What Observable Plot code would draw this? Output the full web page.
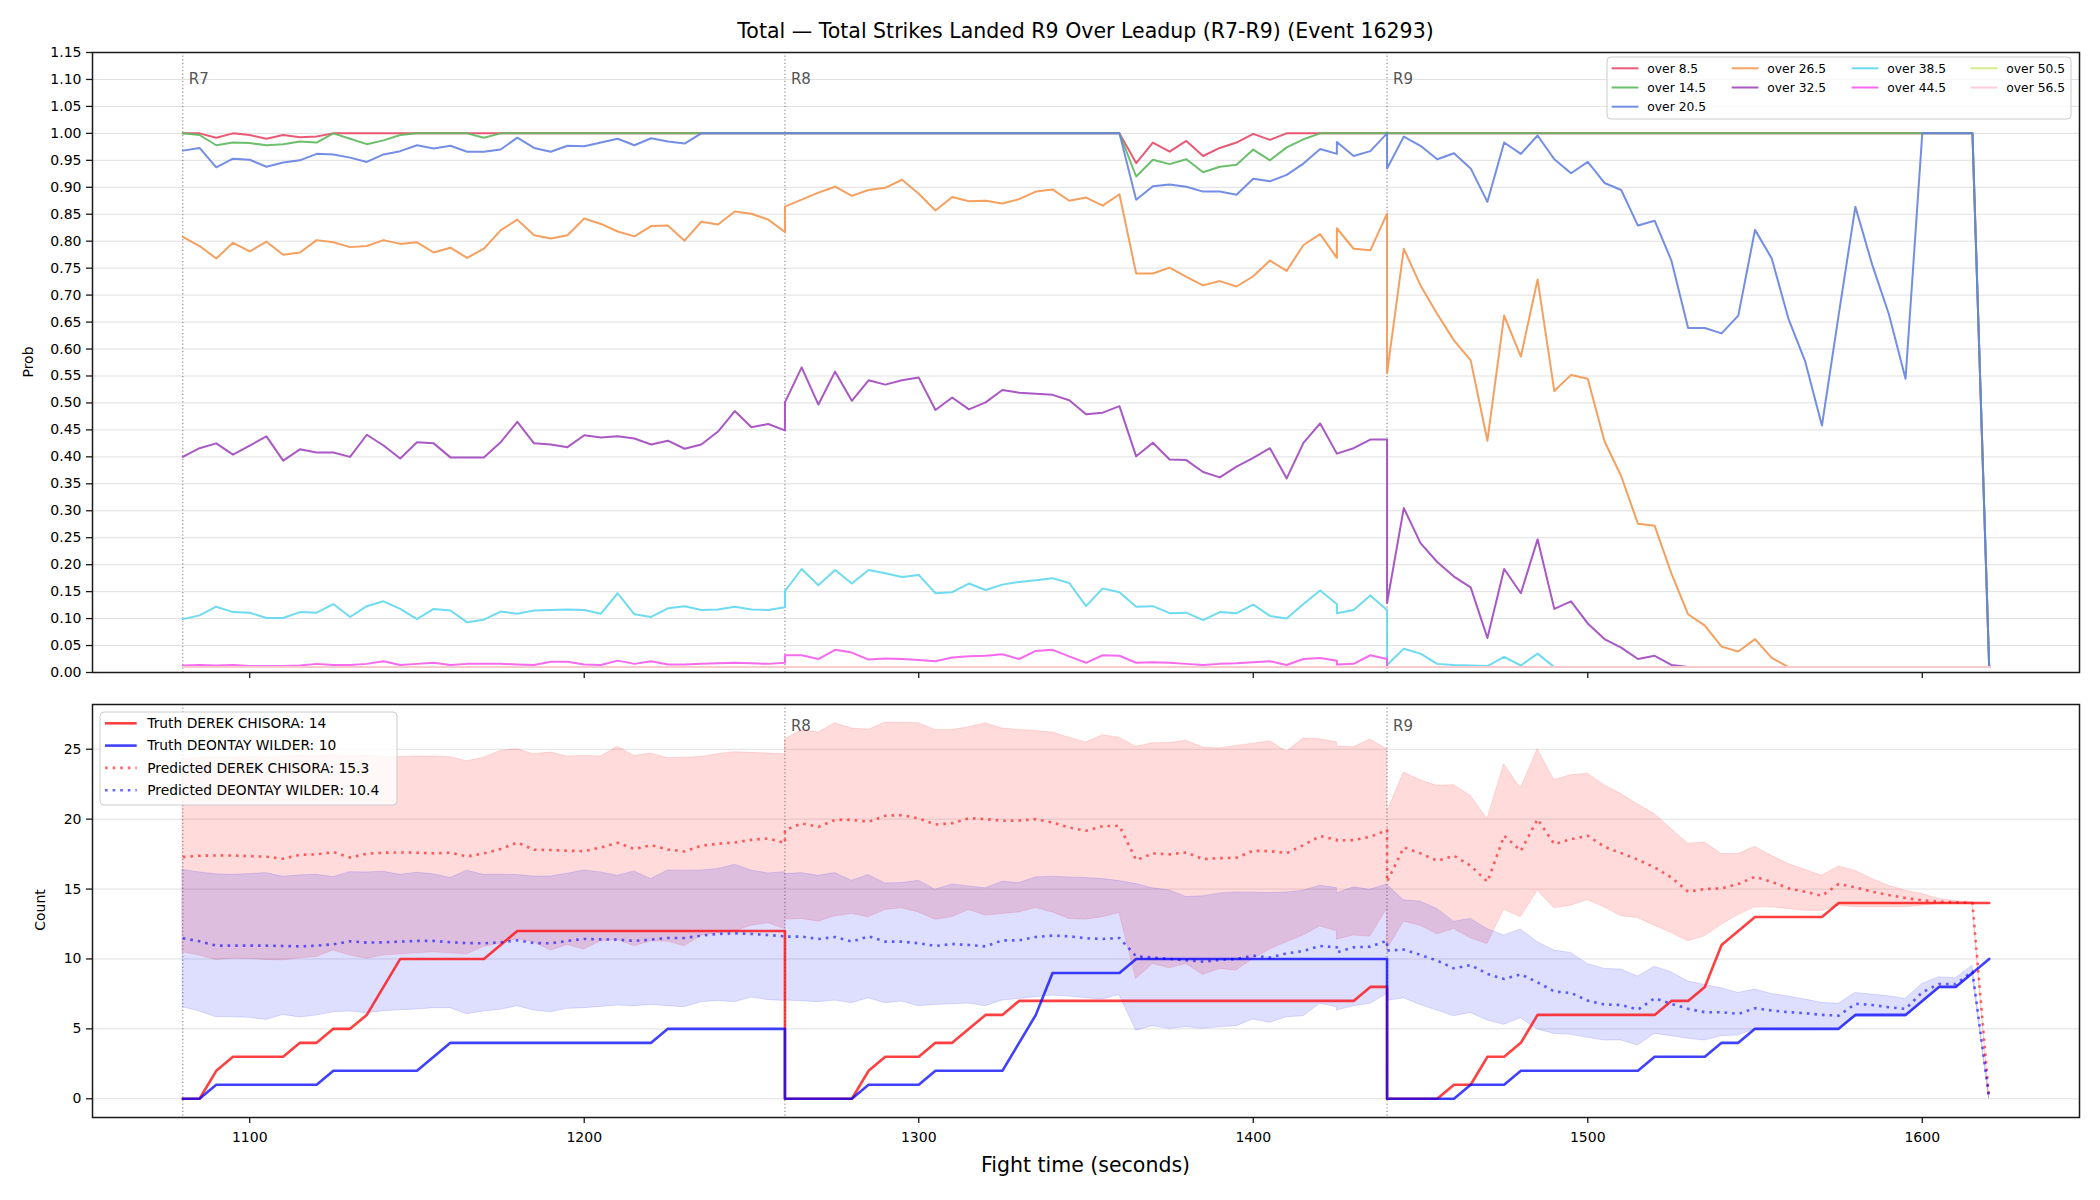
<!DOCTYPE html>
<html>
<head>
<meta charset="utf-8">
<script src="https://cdn.jsdelivr.net/npm/d3@7"></script>
<script src="https://cdn.jsdelivr.net/npm/@observablehq/plot@0.6"></script>
<style>
  body { margin: 0; background: #fff; font-family: "DejaVu Sans", sans-serif; }
  #fig { position: relative; width: 2100px; height: 1200px; overflow: hidden; background: #fff; }
  #fig > svg { position: absolute; left: 0; }
</style>
</head>
<body>
<div id="fig"></div>
<script>
// ---- Rounds and sample grid (seconds into each round, 5 s apart) ----
const roundLabels = ["R7", "R8", "R9"];
const roundStarts = [1080, 1260, 1440];
const offsets = [0, 5, 10, 15, 20, 25, 30, 35, 40, 45, 50, 55, 60, 65, 70, 75, 80, 85, 90, 95,
  100, 105, 110, 115, 120, 125, 130, 135, 140, 145, 150, 155, 160, 165, 170, 175, 180];
// R8 has two snapshots at 165 s
const offsetsR8 = [0, 5, 10, 15, 20, 25, 30, 35, 40, 45, 50, 55, 60, 65, 70, 75, 80, 85, 90, 95,
  100, 105, 110, 115, 120, 125, 130, 135, 140, 145, 150, 155, 160, 165, 165, 170, 175, 180];
const roundOffsets = [offsets, offsetsR8, offsets];

const xTicks = [1100, 1200, 1300, 1400, 1500, 1600];
const probTicks = [0, 0.05, 0.1, 0.15, 0.2, 0.25, 0.3, 0.35, 0.4, 0.45, 0.5, 0.55,
  0.6, 0.65, 0.7, 0.75, 0.8, 0.85, 0.9, 0.95, 1, 1.05, 1.1, 1.15];
const countTicks = [0, 5, 10, 15, 20, 25];

// ---- Over/under probabilities, one list per round [R7, R8, R9] ----
const probLabels = ["over 8.5", "over 14.5", "over 20.5", "over 26.5", "over 32.5",
  "over 38.5", "over 44.5", "over 50.5", "over 56.5"];
const probColors = ["#e84868", "#5cb85c", "#6482e1", "#f5964f", "#a046be",
  "#5fd7f0", "#f55aeb", "#cdeb78", "#fac8d7"];

const over8_5 = [
  [1, 1, 0.992, 1, 0.997, 0.99, 0.997, 0.993, 0.994, 1,
   1, 1, 1, 1, 1, 1, 1, 1, 1, 1,
   1, 1, 1, 1, 1, 1, 1, 1, 1, 1,
   1, 1, 1, 1, 1, 1, 1],
  [1, 1, 1, 1, 1, 1, 1, 1, 1, 1,
   1, 1, 1, 1, 1, 1, 1, 1, 1, 1,
   1, 0.945, 0.983, 0.966, 0.986, 0.958, 0.973, 0.983, 0.999, 0.988,
   1, 1, 1, 1, 1, 1, 1, 1],
  [1, 1, 1, 1, 1, 1, 1, 1, 1, 1,
   1, 1, 1, 1, 1, 1, 1, 1, 1, 1,
   1, 1, 1, 1, 1, 1, 1, 1, 1, 1,
   1, 1, 1, 1, 1, 1, 0.01]
];
const over14_5 = [
  [1, 0.997, 0.978, 0.983, 0.982, 0.978, 0.98, 0.985, 0.983, 1,
   0.99, 0.98, 0.987, 0.997, 1, 1, 1, 1, 0.992, 1,
   1, 1, 1, 1, 1, 1, 1, 1, 1, 1,
   1, 1, 1, 1, 1, 1, 1],
  [1, 1, 1, 1, 1, 1, 1, 1, 1, 1,
   1, 1, 1, 1, 1, 1, 1, 1, 1, 1,
   1, 0.92, 0.951, 0.943, 0.952, 0.928, 0.938, 0.942, 0.97, 0.95,
   0.974, 0.989, 1, 1, 1, 1, 1, 1],
  [1, 1, 1, 1, 1, 1, 1, 1, 1, 1,
   1, 1, 1, 1, 1, 1, 1, 1, 1, 1,
   1, 1, 1, 1, 1, 1, 1, 1, 1, 1,
   1, 1, 1, 1, 1, 1, 0.01]
];
const over20_5 = [
  [0.968, 0.973, 0.937, 0.953, 0.951, 0.938, 0.946, 0.95, 0.962, 0.961,
   0.955, 0.947, 0.961, 0.967, 0.978, 0.972, 0.977, 0.966, 0.966, 0.97,
   0.992, 0.973, 0.966, 0.977, 0.976, 0.983, 0.99, 0.978, 0.991, 0.985,
   0.981, 1, 1, 1, 1, 1, 1],
  [1, 1, 1, 1, 1, 1, 1, 1, 1, 1,
   1, 1, 1, 1, 1, 1, 1, 1, 1, 1,
   1, 0.877, 0.902, 0.905, 0.901, 0.892, 0.892, 0.886, 0.916, 0.911,
   0.923, 0.944, 0.971, 0.962, 0.984, 0.958, 0.967, 1],
  [0.935, 0.994, 0.977, 0.952, 0.963, 0.935, 0.873, 0.983, 0.962, 0.996,
   0.952, 0.926, 0.947, 0.908, 0.895, 0.829, 0.838, 0.764, 0.639, 0.639,
   0.629, 0.662, 0.821, 0.768, 0.656, 0.577, 0.458, 0.663, 0.864, 0.757,
   0.665, 0.545, 1, 1, 1, 1, 0.01]
];
const over26_5 = [
  [0.808, 0.791, 0.768, 0.797, 0.781, 0.799, 0.775, 0.779, 0.802, 0.798,
   0.789, 0.791, 0.802, 0.795, 0.798, 0.779, 0.788, 0.769, 0.786, 0.82,
   0.84, 0.811, 0.805, 0.811, 0.842, 0.832, 0.818, 0.809, 0.828, 0.829,
   0.801, 0.836, 0.831, 0.855, 0.851, 0.84, 0.817],
  [0.864, 0.877, 0.89, 0.901, 0.884, 0.895, 0.899, 0.914, 0.888, 0.857,
   0.882, 0.874, 0.875, 0.87, 0.878, 0.892, 0.896, 0.875, 0.881, 0.866,
   0.887, 0.74, 0.74, 0.751, 0.734, 0.718, 0.726, 0.716, 0.735, 0.764,
   0.745, 0.793, 0.813, 0.769, 0.824, 0.786, 0.783, 0.851],
  [0.555, 0.786, 0.718, 0.665, 0.616, 0.579, 0.43, 0.662, 0.586, 0.729,
   0.522, 0.552, 0.545, 0.429, 0.364, 0.276, 0.272, 0.184, 0.108, 0.087,
   0.048, 0.039, 0.062, 0.027, 0.01, 0.01, 0.01, 0.01, 0.01, 0.01,
   0.01, 0.01, 0.01, 0.01, 0.01, 0.01, 0.01]
];
const over32_5 = [
  [0.4, 0.416, 0.425, 0.404, 0.421, 0.438, 0.393, 0.414, 0.408, 0.408,
   0.4, 0.441, 0.421, 0.397, 0.427, 0.425, 0.399, 0.399, 0.399, 0.427,
   0.465, 0.425, 0.423, 0.418, 0.44, 0.436, 0.438, 0.434, 0.423, 0.43,
   0.415, 0.423, 0.447, 0.485, 0.455, 0.461, 0.449],
  [0.501, 0.566, 0.497, 0.558, 0.504, 0.542, 0.534, 0.542, 0.547, 0.487,
   0.51, 0.488, 0.501, 0.524, 0.519, 0.517, 0.515, 0.505, 0.479, 0.482,
   0.494, 0.401, 0.426, 0.395, 0.394, 0.372, 0.362, 0.382, 0.398, 0.416,
   0.36, 0.426, 0.462, 0.406, 0.406, 0.416, 0.432, 0.432],
  [0.129, 0.305, 0.24, 0.205, 0.178, 0.158, 0.064, 0.192, 0.147, 0.247,
   0.118, 0.132, 0.091, 0.062, 0.046, 0.025, 0.031, 0.014, 0.01, 0.01,
   0.01, 0.01, 0.01, 0.01, 0.01, 0.01, 0.01, 0.01, 0.01, 0.01,
   0.01, 0.01, 0.01, 0.01, 0.01, 0.01, 0.01]
];
const over38_5 = [
  [0.099, 0.106, 0.122, 0.112, 0.111, 0.101, 0.101, 0.112, 0.111, 0.127,
   0.103, 0.123, 0.132, 0.118, 0.099, 0.118, 0.115, 0.093, 0.098, 0.113,
   0.109, 0.115, 0.116, 0.117, 0.116, 0.109, 0.147, 0.108, 0.103, 0.119,
   0.123, 0.116, 0.117, 0.122, 0.117, 0.116, 0.121],
  [0.151, 0.192, 0.162, 0.19, 0.165, 0.19, 0.184, 0.177, 0.181, 0.147,
   0.149, 0.165, 0.153, 0.163, 0.168, 0.171, 0.175, 0.166, 0.123, 0.156,
   0.149, 0.122, 0.123, 0.11, 0.111, 0.097, 0.112, 0.11, 0.126, 0.105,
   0.1, 0.127, 0.152, 0.127, 0.11, 0.116, 0.143, 0.116],
  [0.014, 0.044, 0.035, 0.016, 0.014, 0.013, 0.012, 0.029, 0.013, 0.035,
   0.01, 0.01, 0.01, 0.01, 0.01, 0.01, 0.01, 0.01, 0.01, 0.01,
   0.01, 0.01, 0.01, 0.01, 0.01, 0.01, 0.01, 0.01, 0.01, 0.01,
   0.01, 0.01, 0.01, 0.01, 0.01, 0.01, 0.01]
];
const over44_5 = [
  [0.013, 0.014, 0.013, 0.014, 0.012, 0.012, 0.012, 0.013, 0.016, 0.014,
   0.014, 0.016, 0.021, 0.014, 0.016, 0.018, 0.014, 0.016, 0.016, 0.016,
   0.015, 0.014, 0.02, 0.02, 0.015, 0.014, 0.022, 0.016, 0.021, 0.015,
   0.015, 0.016, 0.017, 0.018, 0.017, 0.016, 0.018],
  [0.032, 0.032, 0.025, 0.042, 0.037, 0.024, 0.026, 0.025, 0.023, 0.021,
   0.028, 0.03, 0.031, 0.034, 0.025, 0.04, 0.042, 0.03, 0.018, 0.032,
   0.031, 0.018, 0.019, 0.018, 0.016, 0.014, 0.016, 0.017, 0.019, 0.021,
   0.014, 0.025, 0.027, 0.022, 0.015, 0.016, 0.032, 0.025],
  [0.01, 0.01, 0.01, 0.01, 0.01, 0.01, 0.01, 0.01, 0.01, 0.01,
   0.01, 0.01, 0.01, 0.01, 0.01, 0.01, 0.01, 0.01, 0.01, 0.01,
   0.01, 0.01, 0.01, 0.01, 0.01, 0.01, 0.01, 0.01, 0.01, 0.01,
   0.01, 0.01, 0.01, 0.01, 0.01, 0.01, 0.01]
];
const over50_5 = [
  [0.01, 0.01, 0.01, 0.01, 0.01, 0.01, 0.01, 0.01, 0.01, 0.01,
   0.01, 0.01, 0.01, 0.01, 0.01, 0.01, 0.01, 0.01, 0.01, 0.01,
   0.01, 0.01, 0.01, 0.01, 0.01, 0.01, 0.01, 0.01, 0.01, 0.01,
   0.01, 0.01, 0.01, 0.01, 0.01, 0.01, 0.01],
  [0.01, 0.01, 0.01, 0.01, 0.01, 0.01, 0.01, 0.01, 0.01, 0.01,
   0.01, 0.01, 0.01, 0.01, 0.01, 0.01, 0.01, 0.01, 0.01, 0.01,
   0.01, 0.01, 0.01, 0.01, 0.01, 0.01, 0.01, 0.01, 0.01, 0.01,
   0.01, 0.01, 0.01, 0.01, 0.01, 0.01, 0.01, 0.01],
  [0.01, 0.01, 0.01, 0.01, 0.01, 0.01, 0.01, 0.01, 0.01, 0.01,
   0.01, 0.01, 0.01, 0.01, 0.01, 0.01, 0.01, 0.01, 0.01, 0.01,
   0.01, 0.01, 0.01, 0.01, 0.01, 0.01, 0.01, 0.01, 0.01, 0.01,
   0.01, 0.01, 0.01, 0.01, 0.01, 0.01, 0.01]
];
const over56_5 = [
  [0.01, 0.01, 0.01, 0.01, 0.01, 0.01, 0.01, 0.01, 0.01, 0.01,
   0.01, 0.01, 0.01, 0.01, 0.01, 0.01, 0.01, 0.01, 0.01, 0.01,
   0.01, 0.01, 0.01, 0.01, 0.01, 0.01, 0.01, 0.01, 0.01, 0.01,
   0.01, 0.01, 0.01, 0.01, 0.01, 0.01, 0.01],
  [0.01, 0.01, 0.01, 0.01, 0.01, 0.01, 0.01, 0.01, 0.01, 0.01,
   0.01, 0.01, 0.01, 0.01, 0.01, 0.01, 0.01, 0.01, 0.01, 0.01,
   0.01, 0.01, 0.01, 0.01, 0.01, 0.01, 0.01, 0.01, 0.01, 0.01,
   0.01, 0.01, 0.01, 0.01, 0.01, 0.01, 0.01, 0.01],
  [0.01, 0.01, 0.01, 0.01, 0.01, 0.01, 0.01, 0.01, 0.01, 0.01,
   0.01, 0.01, 0.01, 0.01, 0.01, 0.01, 0.01, 0.01, 0.01, 0.01,
   0.01, 0.01, 0.01, 0.01, 0.01, 0.01, 0.01, 0.01, 0.01, 0.01,
   0.01, 0.01, 0.01, 0.01, 0.01, 0.01, 0.01]
];

// ---- Cumulative counts: truth, prediction and band, per fighter [R7, R8, R9] ----
const fighterLegend = ["Truth DEREK CHISORA: 14", "Truth DEONTAY WILDER: 10",
  "Predicted DEREK CHISORA: 15.3", "Predicted DEONTAY WILDER: 10.4"];

const chisoraTruth = [
  [0, 0, 2, 3, 3, 3, 3, 4, 4, 5,
   5, 6, 8, 10, 10, 10, 10, 10, 10, 11,
   12, 12, 12, 12, 12, 12, 12, 12, 12, 12,
   12, 12, 12, 12, 12, 12, 12],
  [0, 0, 0, 0, 0, 2, 3, 3, 3, 4,
   4, 5, 6, 6, 7, 7, 7, 7, 7, 7,
   7, 7, 7, 7, 7, 7, 7, 7, 7, 7,
   7, 7, 7, 7, 7, 7, 8, 8],
  [0, 0, 0, 0, 1, 1, 3, 3, 4, 6,
   6, 6, 6, 6, 6, 6, 6, 7, 7, 8,
   11, 12, 13, 13, 13, 13, 13, 14, 14, 14,
   14, 14, 14, 14, 14, 14, 14]
];
const wilderTruth = [
  [0, 0, 1, 1, 1, 1, 1, 1, 1, 2,
   2, 2, 2, 2, 2, 3, 4, 4, 4, 4,
   4, 4, 4, 4, 4, 4, 4, 4, 4, 5,
   5, 5, 5, 5, 5, 5, 5],
  [0, 0, 0, 0, 0, 1, 1, 1, 1, 2,
   2, 2, 2, 2, 4, 6, 9, 9, 9, 9,
   9, 10, 10, 10, 10, 10, 10, 10, 10, 10,
   10, 10, 10, 10, 10, 10, 10, 10],
  [0, 0, 0, 0, 0, 1, 1, 1, 2, 2,
   2, 2, 2, 2, 2, 2, 3, 3, 3, 3,
   4, 4, 5, 5, 5, 5, 5, 5, 6, 6,
   6, 6, 7, 8, 8, 9, 10]
];
const chisoraPred = [
  [17.29, 17.38, 17.4, 17.4, 17.36, 17.31, 17.17, 17.45, 17.48, 17.64,
   17.26, 17.52, 17.6, 17.62, 17.6, 17.55, 17.6, 17.33, 17.55, 17.86,
   18.33, 17.81, 17.79, 17.74, 17.71, 17.98, 18.31, 17.86, 18.14, 17.83,
   17.69, 18.1, 18.24, 18.33, 18.52, 18.62, 18.29],
  [19.21, 19.69, 19.45, 19.95, 19.95, 19.81, 20.24, 20.29, 20.05, 19.62,
   19.71, 20.07, 20.0, 19.88, 19.9, 20.0, 19.76, 19.4, 19.17, 19.5,
   19.52, 17.07, 17.55, 17.48, 17.62, 17.14, 17.21, 17.24, 17.74, 17.71,
   17.57, 18.14, 18.79, 18.52, 18.48, 18.5, 18.74, 19.21],
  [15.52, 17.98, 17.55, 17.02, 17.38, 16.67, 15.52, 18.81, 17.74, 20.0,
   18.21, 18.57, 18.81, 18.02, 17.57, 17.1, 16.55, 15.83, 14.81, 15.0,
   15.05, 15.36, 15.88, 15.52, 15.05, 14.81, 14.52, 15.36, 15.12, 14.81,
   14.57, 14.36, 14.19, 14.1, 14.05, 14.0, 0]
];
const chisoraLow = [
  [10.48, 10.24, 9.93, 10.02, 10.0, 9.93, 9.9, 10.05, 10.14, 10.6,
   10.24, 10.02, 10.24, 10.33, 10.4, 10.48, 10.4, 10.33, 10.86, 11.1,
   11.43, 11.19, 10.6, 11.0, 10.67, 11.26, 11.38, 10.9, 11.26, 11.24,
   10.9, 11.67, 11.83, 11.98, 12.38, 12.55, 12.14],
  [12.81, 12.86, 12.67, 13.05, 13.21, 12.98, 13.5, 13.62, 13.33, 12.81,
   12.98, 13.5, 13.1, 13.21, 13.33, 13.64, 13.33, 12.86, 12.81, 12.98,
   13.29, 8.57, 9.64, 9.33, 9.64, 8.86, 9.29, 9.17, 10.0, 10.67,
   11.19, 11.67, 12.33, 11.98, 11.38, 11.67, 11.6, 13.57],
  [10.67, 12.67, 12.38, 11.76, 12.14, 11.48, 11.07, 13.52, 12.98, 14.88,
   13.62, 13.81, 14.21, 13.69, 13.05, 12.93, 12.38, 11.86, 11.26, 11.62,
   12.45, 13.14, 13.69, 13.69, 13.57, 13.45, 13.43, 13.81, 13.69, 13.69,
   13.69, 13.69, 13.81, 13.93, 14.0, 14.05, 0]
];
const chisoraHigh = [
  [24.3, 24.35, 24.4, 24.4, 24.45, 24.4, 24.5, 24.55, 24.5, 24.6,
   24.5, 24.55, 24.45, 24.45, 24.48, 24.48, 24.43, 24.14, 24.4, 24.88,
   25.0, 24.64, 24.76, 24.48, 24.52, 24.48, 25.17, 24.52, 24.69, 24.36,
   24.4, 24.45, 24.64, 24.79, 24.74, 24.69, 24.64],
  [25.7, 26.36, 26.19, 26.86, 26.48, 26.4, 26.9, 26.9, 26.86, 26.38,
   26.38, 26.57, 26.86, 26.48, 26.38, 26.31, 26.19, 25.83, 25.48, 26.0,
   25.83, 25.17, 25.43, 25.45, 25.6, 25.12, 25.05, 25.24, 25.4, 25.57,
   24.83, 25.76, 25.71, 25.5, 25.2, 25.14, 25.69, 25.0],
  [20.48, 23.33, 22.79, 22.38, 22.43, 21.67, 20.0, 23.93, 22.19, 25.0,
   22.79, 23.14, 23.24, 22.43, 21.79, 21.05, 20.36, 19.29, 18.24, 18.33,
   17.5, 17.5, 18.02, 17.38, 16.79, 16.38, 15.95, 16.62, 16.31, 15.71,
   15.24, 14.88, 14.64, 14.29, 14.14, 14.05, 0]
];
const wilderPred = [
  [11.48, 11.26, 10.95, 10.95, 10.95, 10.95, 10.93, 10.9, 10.95, 11.05,
   11.26, 11.17, 11.19, 11.24, 11.29, 11.29, 11.19, 11.14, 11.12, 11.19,
   11.33, 11.14, 11.12, 11.29, 11.43, 11.4, 11.38, 11.29, 11.38, 11.5,
   11.5, 11.67, 11.79, 11.83, 11.79, 11.71, 11.62],
  [11.6, 11.6, 11.43, 11.57, 11.24, 11.62, 11.24, 11.24, 11.12, 10.93,
   11.07, 11.0, 10.9, 11.33, 11.33, 11.57, 11.67, 11.62, 11.48, 11.43,
   11.5, 10.19, 10.1, 10.0, 9.9, 9.81, 9.93, 10.0, 10.24, 10.1,
   10.4, 10.57, 10.93, 10.83, 10.48, 10.83, 10.88, 11.31],
  [10.6, 10.67, 10.29, 9.88, 9.33, 9.57, 8.93, 8.57, 8.9, 8.33,
   7.67, 7.57, 7.02, 6.74, 6.71, 6.38, 7.19, 6.79, 6.43, 6.19,
   6.19, 6.07, 6.48, 6.31, 6.19, 6.12, 6.0, 5.95, 6.79, 6.71,
   6.55, 6.43, 7.62, 8.21, 8.21, 9.1, 0]
];
const wilderLow = [
  [6.55, 6.24, 5.83, 5.83, 5.79, 5.64, 6.0, 5.81, 5.95, 6.19,
   6.24, 6.12, 6.26, 6.33, 6.38, 6.48, 6.48, 6.05, 6.24, 6.36,
   6.62, 6.31, 6.19, 6.43, 6.48, 6.57, 6.67, 6.62, 6.71, 6.62,
   6.55, 6.9, 7.0, 6.9, 7.24, 7.05, 7.0],
  [7.02, 6.98, 6.9, 7.02, 6.83, 7.19, 6.83, 6.95, 6.62, 6.71,
   6.76, 6.81, 6.62, 7.02, 7.14, 7.26, 7.38, 7.31, 7.19, 7.1,
   7.43, 4.86, 5.19, 5.0, 5.12, 5.0, 5.12, 5.19, 5.67, 5.43,
   5.83, 5.9, 6.79, 6.55, 6.31, 6.62, 6.79, 7.5],
  [7.0, 7.19, 6.71, 6.31, 5.9, 6.14, 5.6, 5.29, 5.76, 4.95,
   4.64, 4.57, 4.36, 4.17, 4.17, 3.81, 4.64, 4.48, 4.29, 4.17,
   4.48, 4.52, 4.95, 5.0, 5.0, 5.0, 5.0, 5.0, 5.83, 5.83,
   5.83, 5.83, 6.86, 7.9, 7.9, 8.81, 0]
];
const wilderHigh = [
  [16.38, 16.19, 16.05, 16.02, 16.07, 16.14, 15.88, 15.98, 16.02, 15.86,
   16.21, 16.19, 16.24, 16.02, 16.17, 16.05, 15.79, 16.31, 16.02, 16.02,
   16.0, 15.9, 15.9, 16.1, 16.33, 16.19, 15.95, 16.26, 15.71, 16.33,
   16.31, 16.33, 16.43, 16.74, 16.33, 16.12, 16.21],
  [16.07, 16.14, 15.95, 16.14, 15.6, 16.0, 15.4, 15.43, 15.6, 14.95,
   15.33, 15.19, 15.05, 15.52, 15.43, 15.83, 15.88, 15.83, 15.79, 15.71,
   15.57, 15.36, 15.05, 14.9, 14.43, 14.48, 14.69, 14.76, 14.74, 14.71,
   14.76, 14.88, 15.24, 15.07, 14.69, 15.12, 14.95, 15.33],
  [15.3, 14.19, 14.1, 13.57, 12.67, 12.86, 12.14, 11.67, 12.1, 11.19,
   10.6, 10.43, 9.64, 9.29, 9.24, 8.74, 9.45, 9.05, 8.38, 8.14,
   7.9, 7.57, 7.81, 7.5, 7.31, 7.1, 6.86, 6.79, 7.57, 7.45,
   7.33, 7.14, 8.21, 8.69, 8.62, 9.52, 0]
];

// ---- Tables built from the lists above ----
const fightTime = roundStarts.flatMap((s, r) => roundOffsets[r].map(o => s + o));
const probSeries = [over8_5, over14_5, over20_5, over26_5, over32_5, over38_5, over44_5, over50_5, over56_5];
const probRows = probSeries.flatMap((rounds, i) =>
  rounds.flat().map((p, j) => ({line: probLabels[i], t: fightTime[j], p})));

const cols = {
  chTruth: chisoraTruth.flat(), wiTruth: wilderTruth.flat(),
  chPred: chisoraPred.flat(), wiPred: wilderPred.flat(),
  chLo: chisoraLow.flat(), chHi: chisoraHigh.flat(),
  wiLo: wilderLow.flat(), wiHi: wilderHigh.flat()
};
const countRows = fightTime.map((t, j) => {
  const row = {t};
  for (const k in cols) row[k] = cols[k][j];
  return row;
});

// ---- Shared geometry ----
const W = 2100;
const mL = 92, mR = 21;
const xDomain = [1053, 1647];
const baseStyle = {fontFamily: "DejaVu Sans, sans-serif", fontSize: "14px", color: "#000",
  background: "transparent", overflow: "visible"};
const fig = document.getElementById("fig");

// ---- Top panel: probability of each total line ----
const probPanel = Plot.plot({
  width: W, height: 700,
  marginTop: 52, marginBottom: 28, marginLeft: mL, marginRight: mR,
  style: baseStyle,
  x: {domain: xDomain, label: null},
  y: {domain: [0, 1.15], label: null},
  color: {domain: probLabels, range: probColors},
  marks: [
    Plot.gridY(probTicks, {stroke: "#e0e0e0", strokeOpacity: 1, strokeWidth: 1}),
    Plot.ruleX(roundStarts, {stroke: "#555", strokeOpacity: 0.8, strokeWidth: 1, strokeDasharray: "1.2,2.4"}),
    Plot.text(roundStarts, {x: d => d, text: (d, i) => roundLabels[i], frameAnchor: "top",
      dy: 21, dx: 6, textAnchor: "start", fill: "#555", fontSize: 15}),
    Plot.line(probRows, {x: "t", y: "p", z: "line", stroke: "line", strokeWidth: 2,
      strokeOpacity: 0.9, strokeLinejoin: "round"}),
    Plot.axisX(xTicks, {tickSize: 6, fill: "none", stroke: "#1a1a1a", strokeWidth: 1.3}),
    Plot.axisY(probTicks, {tickSize: 6, tickPadding: 5, tickFormat: d3.format(".2f"),
      stroke: "#1a1a1a", strokeWidth: 1.3}),
    Plot.frame({stroke: "#1a1a1a", strokeWidth: 1.5})
  ]
});
probPanel.style.top = "0px";
fig.appendChild(probPanel);

// ---- Bottom panel: cumulative counts with prediction bands ----
// the R7 marker label sits under the legend here, so only R8 and R9 are labelled
const countPanel = Plot.plot({
  width: W, height: 500,
  marginTop: 4, marginBottom: 83, marginLeft: mL, marginRight: mR,
  style: baseStyle,
  x: {domain: xDomain, label: null},
  y: {domain: [-1.34, 28.2], label: null},
  marks: [
    Plot.gridY(countTicks, {stroke: "#e0e0e0", strokeOpacity: 1, strokeWidth: 1}),
    Plot.ruleX(roundStarts, {stroke: "#555", strokeOpacity: 0.8, strokeWidth: 1, strokeDasharray: "1.2,2.4"}),
    Plot.text(roundStarts.slice(1), {x: d => d, text: (d, i) => roundLabels[i + 1], frameAnchor: "top",
      dy: 16, dx: 6, textAnchor: "start", fill: "#555", fontSize: 15}),
    Plot.areaY(countRows, {x: "t", y1: "chLo", y2: "chHi", fill: "red", fillOpacity: 0.14,
      stroke: "red", strokeOpacity: 0.12, strokeWidth: 1}),
    Plot.areaY(countRows, {x: "t", y1: "wiLo", y2: "wiHi", fill: "blue", fillOpacity: 0.13,
      stroke: "blue", strokeOpacity: 0.12, strokeWidth: 1}),
    Plot.line(countRows, {x: "t", y: "chTruth", stroke: "red", strokeOpacity: 0.75, strokeWidth: 2.6}),
    Plot.line(countRows, {x: "t", y: "wiTruth", stroke: "blue", strokeOpacity: 0.75, strokeWidth: 2.6}),
    Plot.line(countRows, {x: "t", y: "chPred", stroke: "red", strokeOpacity: 0.6, strokeWidth: 2.6,
      strokeDasharray: "2.6,5", strokeLinecap: "butt"}),
    Plot.line(countRows, {x: "t", y: "wiPred", stroke: "blue", strokeOpacity: 0.6, strokeWidth: 2.6,
      strokeDasharray: "2.6,5", strokeLinecap: "butt"}),
    Plot.axisX(xTicks, {tickSize: 6, tickPadding: 9, tickFormat: d => String(d),
      stroke: "#1a1a1a", strokeWidth: 1.3}),
    Plot.axisY(countTicks, {tickSize: 6, tickPadding: 5, tickFormat: d3.format("d"),
      stroke: "#1a1a1a", strokeWidth: 1.3}),
    Plot.frame({stroke: "#1a1a1a", strokeWidth: 1.5})
  ]
});
countPanel.style.top = "700px";
fig.appendChild(countPanel);

// ---- Title, axis titles and legends ----
const over = d3.select(fig).append("svg")
  .attr("width", W).attr("height", 1200)
  .style("top", "0px").style("pointer-events", "none")
  .style("font-family", "DejaVu Sans, sans-serif");

const cx = (mL + (W - mR)) / 2;
over.append("text").attr("x", cx).attr("y", 31).attr("dy", "0.35em")
  .attr("text-anchor", "middle").attr("font-size", 20.5).attr("fill", "#000")
  .text("Total \u2014 Total Strikes Landed R9 Over Leadup (R7-R9) (Event 16293)");
over.append("text").attr("x", cx).attr("y", 1165).attr("dy", "0.35em")
  .attr("text-anchor", "middle").attr("font-size", 20.5).attr("fill", "#000")
  .text("Fight time (seconds)");
over.append("text").attr("transform", "translate(28,362) rotate(-90)").attr("dy", "0.35em")
  .attr("text-anchor", "middle").attr("font-size", 14).attr("fill", "#000").text("Prob");
over.append("text").attr("transform", "translate(40,910) rotate(-90)").attr("dy", "0.35em")
  .attr("text-anchor", "middle").attr("font-size", 14).attr("fill", "#000").text("Count");

// top legend: 4 columns, filled column by column
over.append("rect").attr("x", 1607).attr("y", 57).attr("width", 464).attr("height", 62)
  .attr("rx", 4).attr("fill", "#fff").attr("fill-opacity", 0.8)
  .attr("stroke", "#cccccc").attr("stroke-width", 1);
const legCols = [1611.7, 1731.7, 1851.7, 1970.7];
const legRows = [68.3, 87.5, 106.7];
const legSlots = [[0, 0], [0, 1], [0, 2], [1, 0], [1, 1], [2, 0], [2, 1], [3, 0], [3, 1]];
probLabels.forEach((lab, i) => {
  const [c, r] = legSlots[i];
  const x = legCols[c], y = legRows[r];
  over.append("line").attr("x1", x).attr("x2", x + 26.7).attr("y1", y).attr("y2", y)
    .attr("stroke", probColors[i]).attr("stroke-opacity", 0.9).attr("stroke-width", 2);
  over.append("text").attr("x", x + 35.6).attr("y", y).attr("dy", "0.35em")
    .attr("font-size", 12.3).attr("fill", "#000").text(lab);
});

// bottom legend
over.append("rect").attr("x", 100).attr("y", 712).attr("width", 297).attr("height", 93)
  .attr("rx", 4).attr("fill", "#fff").attr("fill-opacity", 0.8)
  .attr("stroke", "#cccccc").attr("stroke-width", 1);
const fLegRows = [723.3, 745.6, 767.9, 790.2];
const fLegStyle = [
  {stroke: "red", op: 0.75, dash: null},
  {stroke: "blue", op: 0.75, dash: null},
  {stroke: "red", op: 0.6, dash: "2.6,5"},
  {stroke: "blue", op: 0.6, dash: "2.6,5"}
];
fighterLegend.forEach((lab, i) => {
  const y = fLegRows[i], s = fLegStyle[i];
  const ln = over.append("line").attr("x1", 105).attr("x2", 136.7).attr("y1", y).attr("y2", y)
    .attr("stroke", s.stroke).attr("stroke-opacity", s.op).attr("stroke-width", 2.6);
  if (s.dash) ln.attr("stroke-dasharray", s.dash);
  over.append("text").attr("x", 147.3).attr("y", y).attr("dy", "0.35em")
    .attr("font-size", 13.8).attr("fill", "#000").text(lab);
});
</script>
</body>
</html>
